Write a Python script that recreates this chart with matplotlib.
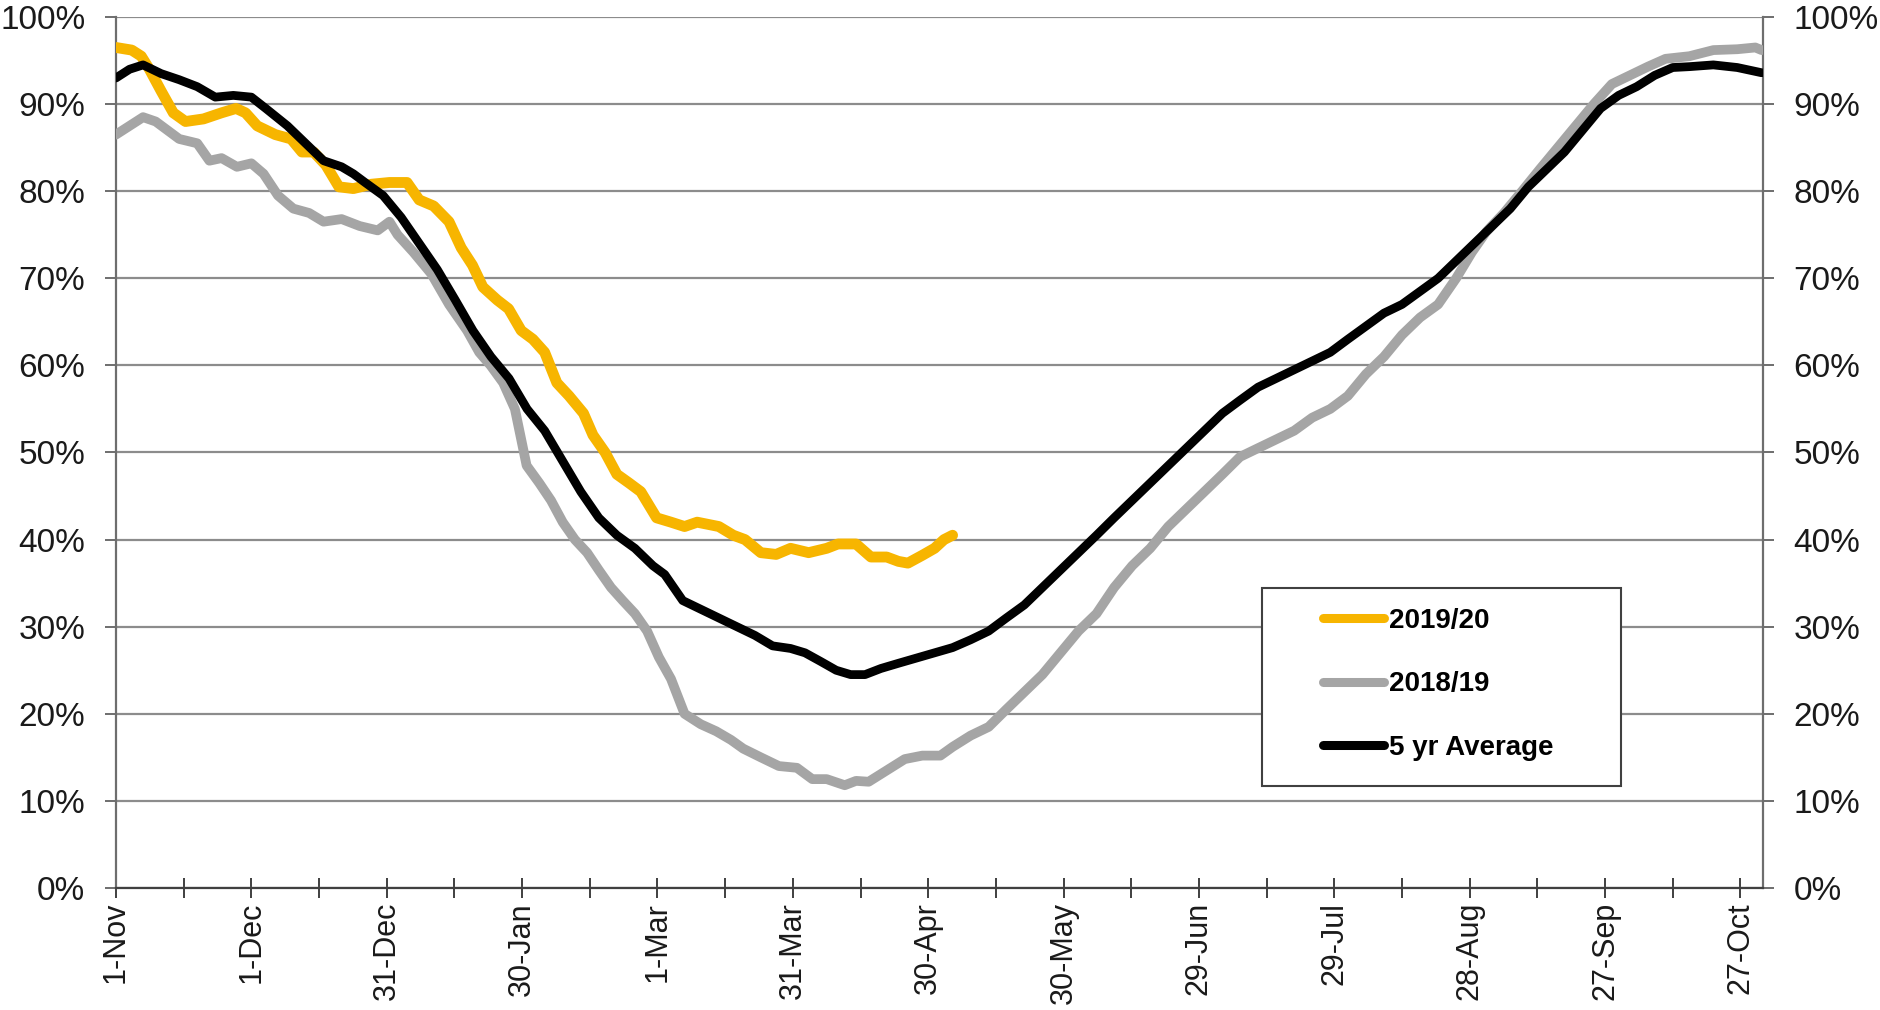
import matplotlib
matplotlib.use("Agg")
import matplotlib.pyplot as plt
from matplotlib.patches import Rectangle
import numpy as np

# ---- data (day offset from 1-Nov, percent full) ----
d_1920 = [0, 3.5, 5.6, 7.4, 10, 12.7, 15.4, 19.4, 23.4, 26.6, 28.7, 31.3, 35.3, 38.8, 41.2, 43.8,
          46.5, 49.4, 52.6, 56.6, 60.6, 64.5, 67.2, 70.4, 73.8, 76.5, 79, 81.3, 84.5, 87, 89.8,
          92.4, 95, 97.7, 100.4, 103.6, 105.7, 108.4, 111, 113.7, 116.3, 119.8, 123, 126, 128.8,
          133.6, 136.8, 139.4, 142.9, 146.3, 149.5, 153.5, 157.5, 160, 164, 167.3, 170.8, 173.4,
          175.5, 178.7, 181.4, 183.5, 185.4]
v_1920 = [96.5, 96.2, 95.5, 94, 91.5, 89, 88, 88.3, 89, 89.5, 89, 87.5, 86.5, 86, 84.5, 84.5,
          83, 80.5, 80.3, 80.8, 81, 81, 79, 78.3, 76.5, 73.5, 71.5, 69, 67.5, 66.5, 64,
          63, 61.5, 58, 56.5, 54.5, 52, 50, 47.5, 46.5, 45.5, 42.5, 42, 41.5, 42,
          41.5, 40.5, 40, 38.5, 38.3, 39, 38.5, 39, 39.5, 39.5, 38, 38, 37.5,
          37.3, 38.2, 39, 40, 40.5]

d_1819 = [0, 3, 6, 8.8, 11.4, 14, 18, 20.7, 23.4, 26.8, 30, 32.7, 35.9, 39.3, 42.8, 46, 50, 54,
          58, 60.6, 62.4, 65.9, 69.9, 73.8, 77.8, 80.5, 83, 85.8, 88.4, 91, 93.8, 96.4, 99,
          101.7, 104.4, 107, 109.7, 112.3, 115, 117.7, 120.3, 123, 126, 129.6, 133, 136.3, 139,
          142.9, 146.9, 150.9, 154.3, 157.5, 161.5, 164, 166.8, 170.8, 174.8, 178.7, 182.7,
          185.4, 189.4, 193.4, 197.3, 201.3, 205.3, 209.3, 213.3, 217.3, 221.2, 225.2, 229.2,
          233.2, 237.2, 241.2, 245.2, 249.1, 253.1, 257.1, 261.1, 265.1, 269.1, 273, 277, 281,
          285, 289, 293, 297, 300.5, 303.6, 307.6, 311.6, 315.5, 319.5, 323.5, 327.5, 331.5,
          335.5, 339.5, 343.4, 348.7, 354, 359.3, 363.3, 364.7]
v_1819 = [86.5, 87.5, 88.5, 88, 87, 86, 85.5, 83.5, 83.8, 82.8, 83.2, 82, 79.5, 78, 77.5, 76.5,
          76.8, 76, 75.5, 76.5, 75, 73, 70.5, 67, 64, 61.5, 60, 58, 55, 48.5, 46.5, 44.5, 42,
          40, 38.5, 36.5, 34.5, 33, 31.5, 29.5, 26.5, 24, 20, 18.8, 18, 17, 16,
          15, 14, 13.8, 12.5, 12.5, 11.8, 12.3, 12.2, 13.5, 14.8, 15.2, 15.2,
          16.2, 17.5, 18.5, 20.5, 22.5, 24.5, 27, 29.5, 31.5, 34.5, 37, 39,
          41.5, 43.5, 45.5, 47.5, 49.5, 50.5, 51.5, 52.5, 54, 55, 56.5, 59, 61,
          63.5, 65.5, 67, 70, 73, 75.3, 77.5, 80, 82.5, 85, 87.5, 90, 92.3,
          93.3, 94.3, 95.2, 95.5, 96.2, 96.3, 96.5, 96.2]

d_avg = [0, 3, 6, 10, 14, 18, 22, 26, 30, 33.2, 38, 42, 46, 50, 52.6, 55.2, 59.2, 63.2, 67.2,
         71.2, 75.2, 79.1, 83.1, 87.1, 91.1, 95, 99, 103, 107, 111, 115, 119, 121.6, 125.6,
         129.6, 133.6, 137.6, 141.6, 145.5, 149.5, 152.7, 156.2, 159.6, 162.8, 166, 169.5,
         173.4, 177.4, 181.4, 185.4, 189.4, 193.4, 197.3, 201.3, 205.3, 209.3, 213.3, 217.3,
         221.2, 225.2, 229.2, 233.2, 237.2, 241.2, 245.2, 249.1, 253.1, 257.1, 261.1, 265.1,
         269.1, 273, 277, 281, 285, 289, 293, 297, 301, 305, 309, 313, 317, 321, 325, 329,
         333, 337, 341, 345, 348.7, 354, 359.3, 364.7]
v_avg = [93, 94, 94.5, 93.5, 92.8, 92, 90.8, 91, 90.8, 89.5, 87.5, 85.5, 83.5, 82.8, 82, 81,
         79.5, 77, 74, 71, 67.5, 64, 61, 58.5, 55, 52.5, 49, 45.5, 42.5, 40.5, 39, 37, 36,
         33, 32, 31, 30, 29, 27.8, 27.5, 27, 26, 25, 24.5, 24.5, 25.2, 25.8, 26.4, 27, 27.6,
         28.5, 29.5, 31, 32.5, 34.5, 36.5, 38.5, 40.5, 42.5, 44.5, 46.5, 48.5, 50.5, 52.5,
         54.5, 56, 57.5, 58.5, 59.5, 60.5, 61.5, 63, 64.5, 66, 67, 68.5, 70, 72, 74, 76, 78,
         80.5, 82.5, 84.5, 87, 89.5, 91, 92, 93.3, 94.2, 94.3, 94.5, 94.2, 93.6]

tick_days = [0, 30, 60, 90, 120, 150, 180, 210, 240, 270, 300, 330, 360]
tick_labels = ["1-Nov", "1-Dec", "31-Dec", "30-Jan", "1-Mar", "31-Mar", "30-Apr",
               "30-May", "29-Jun", "29-Jul", "28-Aug", "27-Sep", "27-Oct"]
y_ticks = list(range(0, 101, 10))
series_labels = ["2019/20", "2018/19", "5 yr Average"]

plt.rcParams['font.family'] = ['Liberation Sans', 'DejaVu Sans']

fig = plt.figure(figsize=(18.8, 10.1), dpi=100)
ax = fig.add_axes([116/1880, 1-888/1010, (1763-116)/1880, (888-17)/1010])

YEL = "#F7B500"
GRY = "#A5A5A5"
BLK = "#000000"

l2, = ax.plot(d_1819, v_1819, color=GRY, lw=7, solid_capstyle='round', solid_joinstyle='round', zorder=3)
l1, = ax.plot(d_1920, v_1920, color=YEL, lw=7.8, solid_capstyle='round', solid_joinstyle='round', zorder=4)
l3, = ax.plot(d_avg, v_avg, color=BLK, lw=6.3, solid_capstyle='round', solid_joinstyle='round', zorder=5)

ax.set_xlim(0, 365)
ax.set_ylim(0, 100)
ax.set_yticks(y_ticks)
ax.set_yticklabels([f"{v}%" for v in y_ticks])
ax.set_xticks(tick_days)
ax.set_xticklabels(tick_labels, rotation=90)
ax.set_xticks([15 + 30 * i for i in range(12)], minor=True)

ax.yaxis.grid(True, color="#8C8C8C", lw=1.6)
ax.set_axisbelow(True)

for s in ["left", "right", "bottom"]:
    ax.spines[s].set_color("#6E6E6E")
    ax.spines[s].set_linewidth(1.6)
ax.spines["bottom"].set_color("#404040")
ax.spines["top"].set_visible(False)

ax.tick_params(axis='y', which='major', direction='out', length=8, width=1.4, color="#6E6E6E",
               labelsize=24, pad=14, left=True, right=True, labelleft=True, labelright=True,
               labelcolor="#1a1a1a")
ax.tick_params(axis='x', which='both', direction='inout', length=14, width=1.4, color="#404040",
               labelsize=22, pad=3, labelcolor="#1a1a1a")

# legend frame
ax.add_patch(Rectangle((0.696, 0.117), 0.218, 0.227, transform=ax.transAxes,
                       facecolor="white", edgecolor="#404040", lw=1.5, zorder=6))
leg = ax.legend([l1, l2, l3], series_labels, loc='upper left', bbox_to_anchor=(0.733, 0.3215),
                frameon=False, borderpad=0, borderaxespad=0, handlelength=2.2,
                handletextpad=0.15, labelspacing=1.35, prop={'size': 20, 'weight': 'bold'})
leg.set_zorder(7)
for h in leg.get_lines():
    h.set_linewidth(6.5)
    h.set_solid_capstyle('round')

fig.savefig("out.png", dpi=100, facecolor="white")
